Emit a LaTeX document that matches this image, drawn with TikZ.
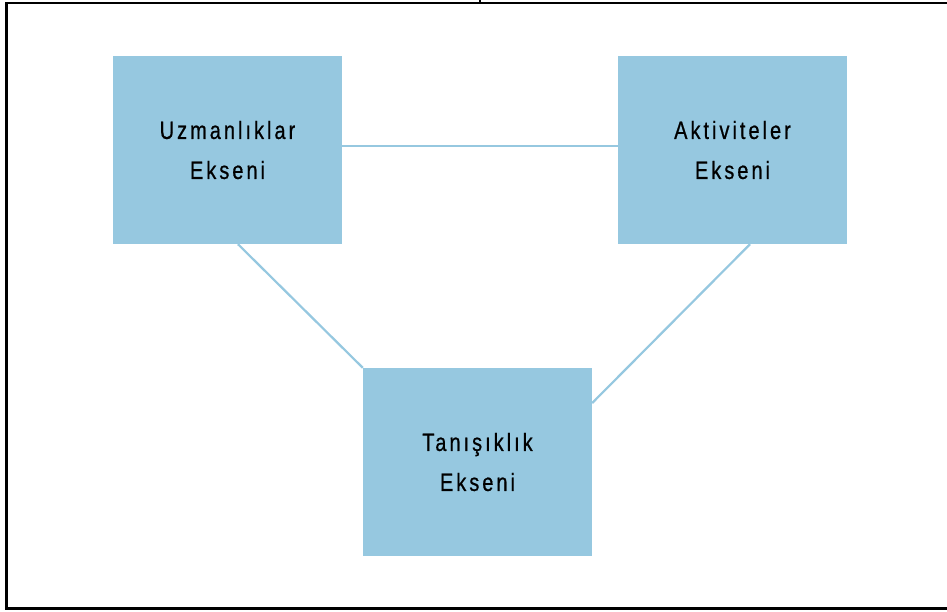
\documentclass[tikz,border=0pt]{standalone}
\usepackage{fontspec}
\setmainfont[FakeStretch=0.8,LetterSpace=12,FakeBold=0.6]{Liberation Sans}
\definecolor{boxblue}{RGB}{150,200,224}
\begin{document}
\begin{tikzpicture}[x=1pt,y=-1pt,
  axisbox/.style={fill=boxblue,draw=none,minimum width=229pt,minimum height=188pt,
    inner sep=0pt,align=center,font=\fontsize{25pt}{40pt}\selectfont},
  link/.style={draw=boxblue,line width=2.2pt}]
\useasboundingbox (0,0) rectangle (947,611);
\fill[white] (0,0) rectangle (947,611);
% frame
\draw[line width=2.5pt] (960,3) -- (6.5,3) -- (6.5,608.5) -- (960,608.5);
\draw[line width=2pt] (480,0) -- (480,3);
% boxes
\node[axisbox] (u) at (227.5,150) {Uzmanlıklar\\Ekseni};
\node[axisbox] (a) at (732.5,150) {Aktiviteler\\Ekseni};
\node[axisbox] (t) at (477.5,462) {Tanışıklık\\Ekseni};
% connectors
\draw[link] ([yshift=4pt]u.east) -- ([yshift=4pt]a.west);
\draw[link] ([xshift=10.5pt]u.south) -- (t.north west);
\draw[link] ([xshift=17.5pt]a.south) -- ([yshift=59pt]t.east);
\end{tikzpicture}
\end{document}
